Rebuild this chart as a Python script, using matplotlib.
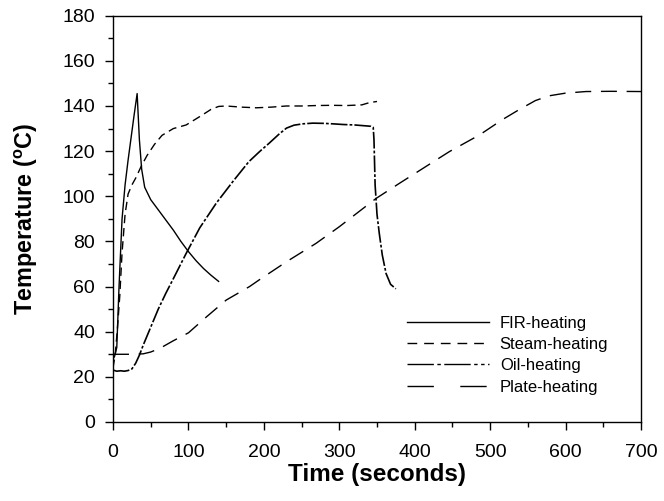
import matplotlib
matplotlib.use("Agg")
import matplotlib.pyplot as plt
from matplotlib.lines import Line2D
from matplotlib.ticker import MultipleLocator

plt.rcParams['font.family'] = ['Liberation Sans', 'DejaVu Sans']
plt.rcParams['mathtext.fontset'] = 'custom'
plt.rcParams['mathtext.rm'] = 'Liberation Sans'
plt.rcParams['mathtext.bf'] = 'Liberation Sans:bold'
plt.rcParams['lines.scale_dashes'] = False

# ---------------- data ----------------
labels = ["FIR-heating", "Steam-heating", "Oil-heating", "Plate-heating"]

fir_t = [0, 2, 5, 8, 12, 16, 20, 24, 28, 32, 35, 38, 42, 50, 60, 70, 80, 90, 100, 110, 120, 130, 140]
fir_T = [28, 29, 33, 60, 90, 105, 116, 126, 136, 145.5, 125, 112, 104, 98.5, 94, 89.5, 85, 80, 75.5, 71.5, 68, 65, 62.3]

steam_t = [0, 3, 6, 9, 12, 16, 20, 25, 30, 37, 45, 55, 65, 80, 97, 115, 130, 140, 150, 170, 190, 210, 230, 250, 270, 290, 310, 330, 340, 350]
steam_T = [24, 30, 42, 56, 75, 92, 101, 105, 108, 113, 118, 123, 127, 130, 131.6, 135.3, 138.5, 139.8, 140, 139.5, 139.2, 139.5, 140, 140, 140.2, 140.3, 140.2, 140.5, 141.5, 142]

oil_t = [0, 5, 10, 15, 20, 25, 30, 35, 40, 50, 60, 70, 80, 97, 115, 137, 160, 180, 195, 207, 220, 230, 240, 252, 265, 280, 291, 305, 320, 335, 342, 345, 346, 347.5, 350, 353, 357, 362, 368, 375]
oil_T = [23, 22.5, 22.7, 22.5, 22.8, 23.5, 26, 29.6, 34, 42, 50, 57, 63.5, 74.7, 86, 97, 107, 115.3, 120, 123.5, 127.5, 130.2, 131.5, 132.1, 132.4, 132.3, 132.1, 131.8, 131.6, 131.2, 131, 130.5, 125, 105, 92, 83.6, 74, 65.8, 61, 59]

plate_t = [0, 20, 40, 50, 62, 80, 100, 124, 150, 181, 194, 230, 269, 300, 349, 380, 446, 486, 516, 538, 560, 578, 600, 627, 660, 700]
plate_T = [30, 30, 30.2, 31, 32.6, 36, 39.5, 46.6, 54, 60, 63, 71, 79.1, 86.5, 99.1, 105.8, 119.8, 127.2, 133.9, 138.3, 142.4, 144.5, 145.7, 146.4, 146.5, 146.4]

x_ticks = [0, 100, 200, 300, 400, 500, 600, 700]
y_ticks = [0, 20, 40, 60, 80, 100, 120, 140, 160, 180]

# ---------------- styles ----------------
fir_style = dict(linestyle='-')
steam_style = dict(dashes=(6, 3.5))
oil_style = dict(dashes=(12, 1.5, 2, 1.5))
plate_style = dict(dashes=(11.5, 7))

fig = plt.figure(figsize=(6.64, 5.01), dpi=100)
ax = fig.add_axes([113 / 664, 1 - 422 / 501, 528 / 664, (422 - 15.7) / 501])

lw = 1.0
ax.plot(fir_t, fir_T, color='black', lw=lw, **fir_style)
ax.plot(steam_t, steam_T, color='black', lw=lw, **steam_style)
ax.plot(oil_t, oil_T, color='black', lw=1.2, **oil_style)
ax.plot(plate_t, plate_T, color='black', lw=lw, **plate_style)

ax.set_xlim(0, 700)
ax.set_ylim(0, 180)
ax.set_xticks(x_ticks)
ax.set_yticks(y_ticks)
ax.xaxis.set_minor_locator(MultipleLocator(50))
ax.yaxis.set_minor_locator(MultipleLocator(10))
ax.tick_params(which='major', direction='out', length=6, width=1.0, labelsize=14, color='black')
ax.tick_params(which='minor', direction='out', length=3.5, width=1.0, color='black')
ax.tick_params(axis='x', which='major', pad=9.5)
ax.tick_params(axis='y', which='major', pad=7)
for s in ax.spines.values():
    s.set_linewidth(1.0)
    s.set_color('black')

ax.set_xlabel('Time (seconds)', fontsize=17.5, fontweight='bold', labelpad=2)
ax.set_ylabel(r'Temperature ($^{\mathbf{o}}$C)', fontsize=16.8, fontweight='bold', labelpad=16)

handles = [
    Line2D([], [], color='black', lw=lw, linestyle='-'),
    Line2D([], [], color='black', lw=lw, dashes=(7, 5)),
    Line2D([], [], color='black', lw=lw, dashes=(19, 2.5, 2.5, 2.5, 19, 2.5, 2.5, 2.5, 2.5, 2.5)),
    Line2D([], [], color='black', lw=lw, dashes=(19, 19)),
]
ax.legend(handles, labels, loc='upper left', bbox_to_anchor=(0.557, 0.262),
          frameon=False, fontsize=12, handlelength=4.9, handletextpad=0.66,
          labelspacing=0.38, borderpad=0, borderaxespad=0)

fig.savefig('out.png', dpi=100)
